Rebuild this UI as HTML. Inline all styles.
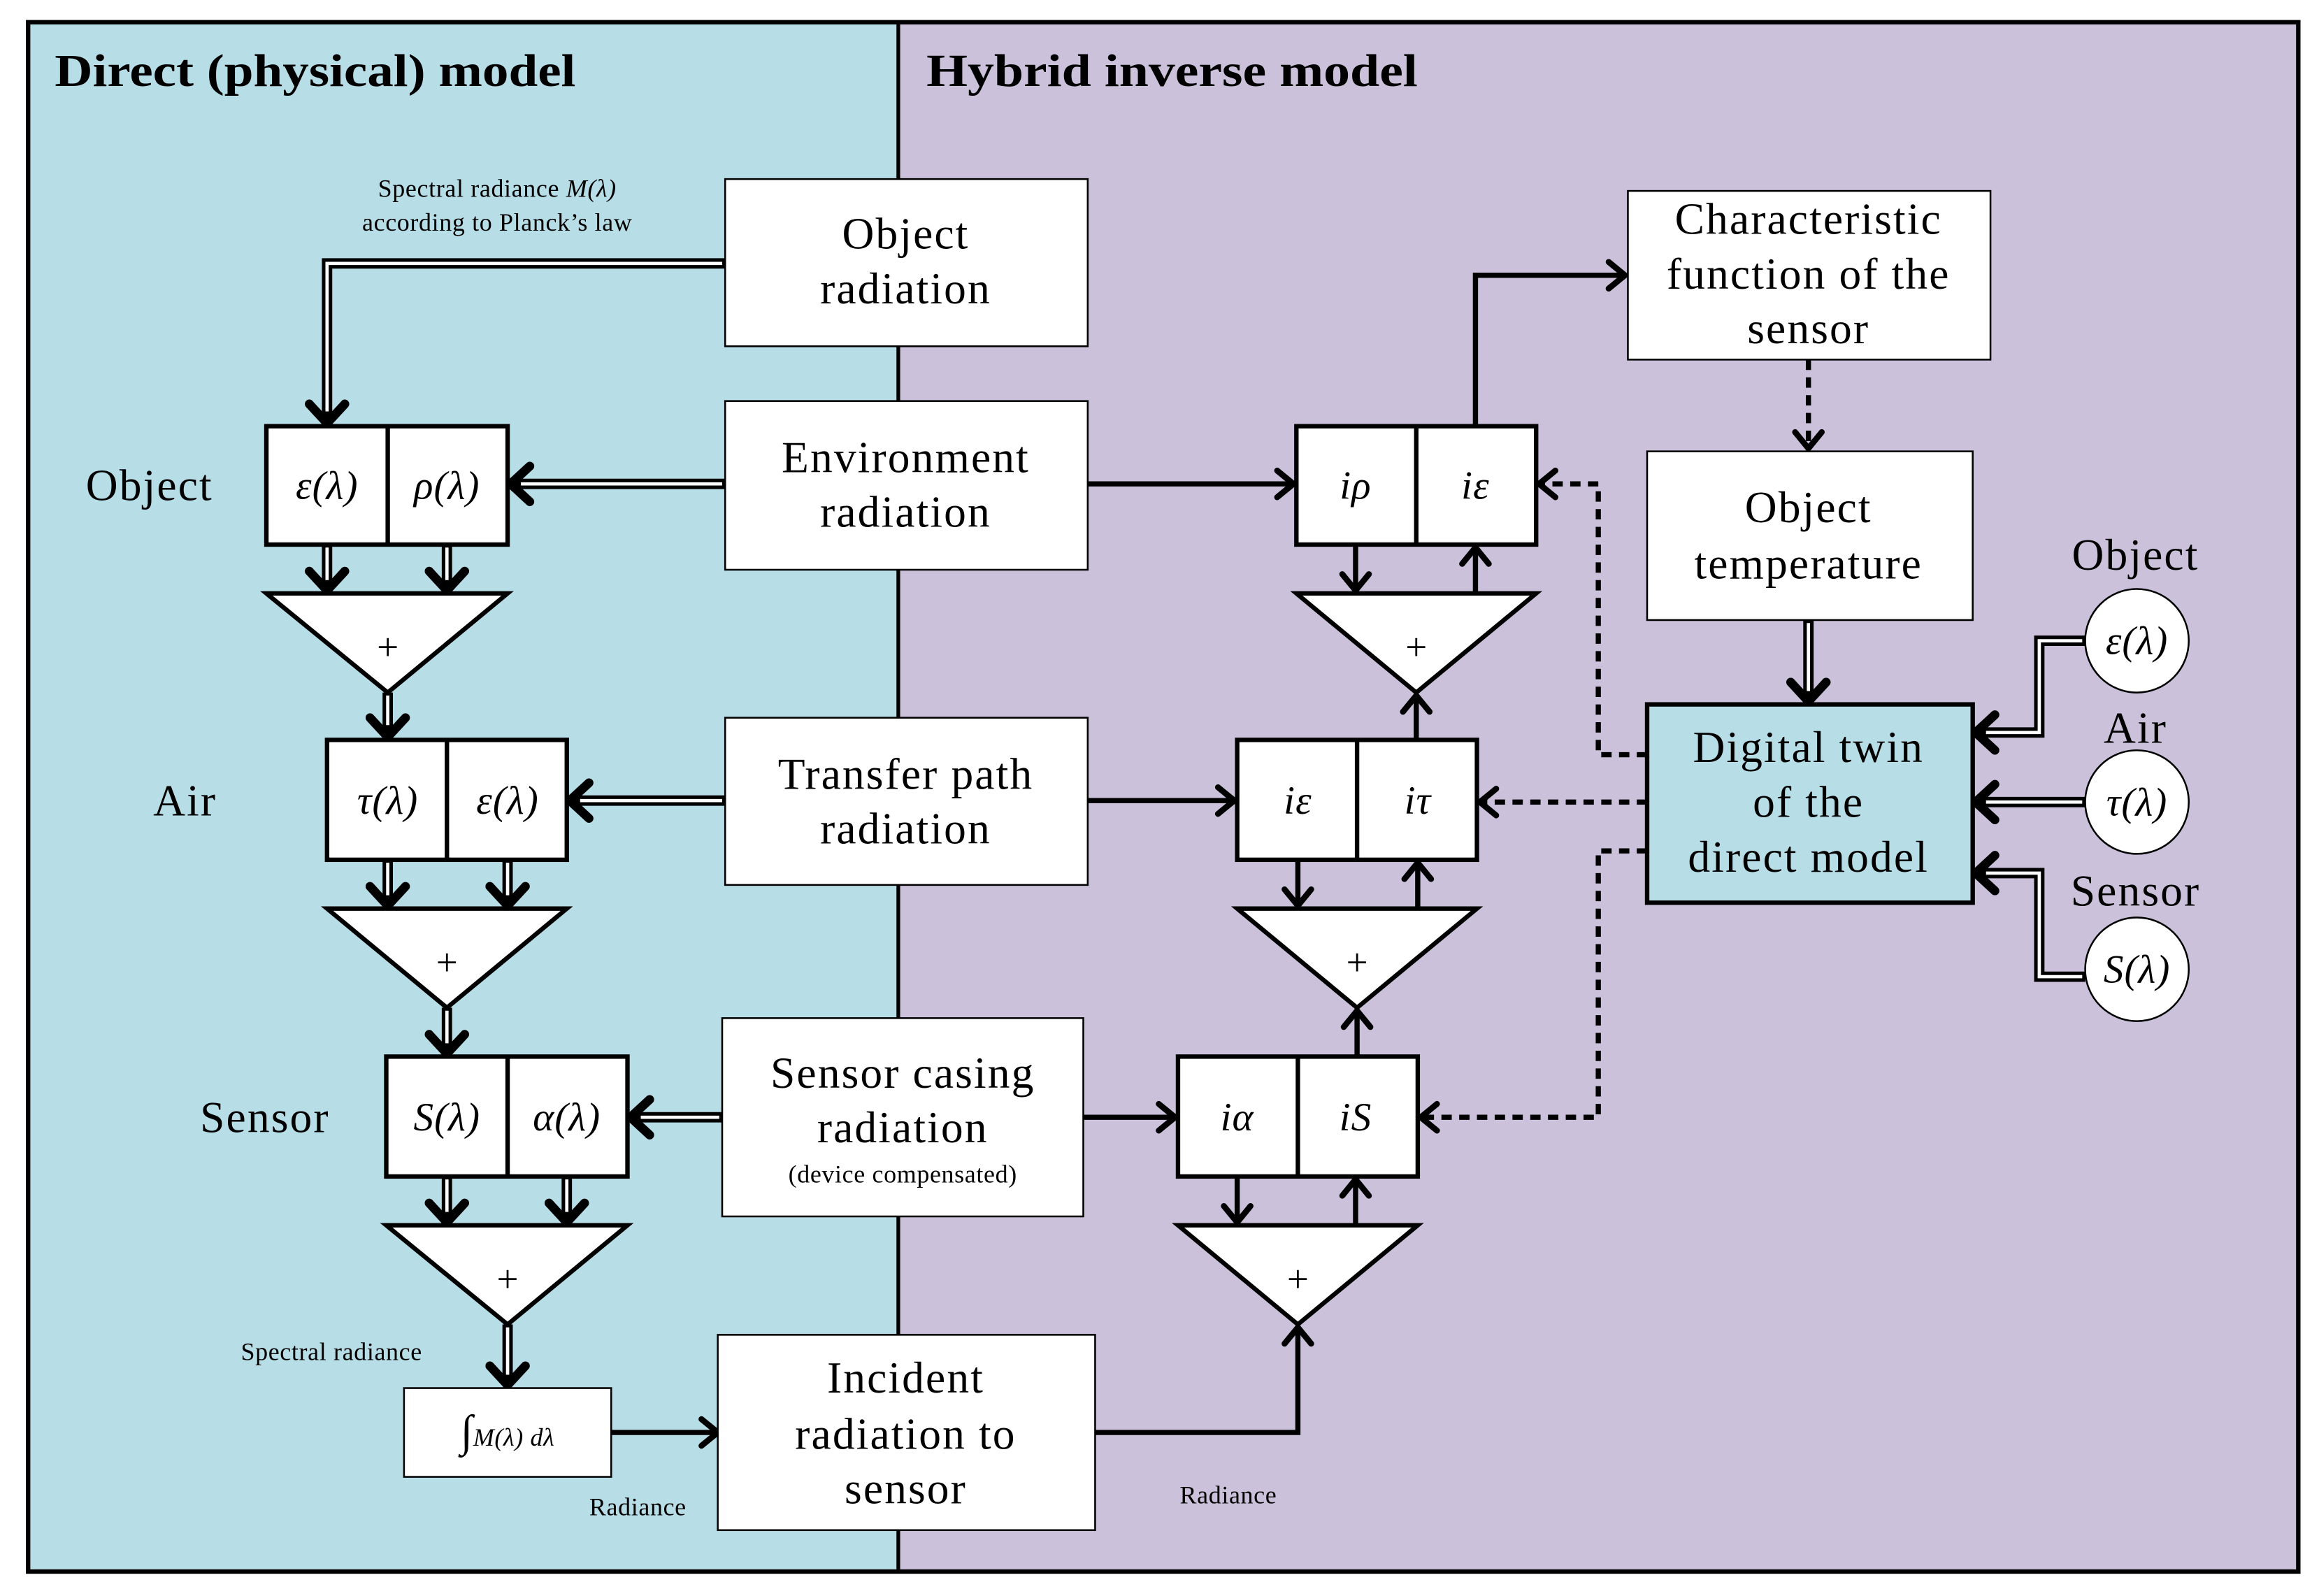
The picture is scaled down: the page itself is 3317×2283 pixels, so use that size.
<!DOCTYPE html>
<html><head><meta charset="utf-8"><style>html,body{margin:0;padding:0;background:#fff}svg{display:block}</style></head><body>
<svg xmlns="http://www.w3.org/2000/svg" width="3317" height="2283" viewBox="0 0 1567 1078.5">
<defs>
<marker id="a" markerUnits="userSpaceOnUse" markerWidth="30" markerHeight="30" viewBox="-20 -15 30 30" refX="0" refY="0" orient="auto">
<path d="M-11,-9 L0,0 L-11,9" fill="none" stroke="#000" stroke-width="4" stroke-linecap="round" stroke-linejoin="round"/>
</marker>
<marker id="b" markerUnits="userSpaceOnUse" markerWidth="30" markerHeight="30" viewBox="-20 -15 30 30" refX="0" refY="0" orient="auto">
<path d="M-13,-12 L0,0 L-13,12" fill="none" stroke="#000" stroke-width="6" stroke-linecap="round" stroke-linejoin="round"/>
</marker>
</defs>
<rect x="0" y="0" width="1567" height="1078.5" fill="#fff"/>
<rect x="19" y="15" width="588" height="1047" fill="#b7dde7"/>
<rect x="607" y="15" width="946" height="1047" fill="#ccc1da"/>
<rect x="19" y="15" width="1534" height="1047" fill="none" stroke="#000" stroke-width="3"/>
<line x1="607" y1="15" x2="607" y2="1062" stroke="#000" stroke-width="2.5"/>
<g font-family="Liberation Serif, serif" fill="#000" font-weight="bold">
<text x="37" y="58" font-size="31" textLength="352" lengthAdjust="spacingAndGlyphs">Direct (physical) model</text>
<text x="626" y="58" font-size="31" textLength="332" lengthAdjust="spacingAndGlyphs">Hybrid inverse model</text>
</g>
<g fill="none" stroke-linejoin="miter">
<g stroke="#000" stroke-width="7">
<path d="M490,178 H221 V286" marker-end="url(#b)"/>
<path d="M490,327 H345" marker-end="url(#b)"/>
<path d="M221,368 V399" marker-end="url(#b)"/>
<path d="M302,368 V399" marker-end="url(#b)"/>
<path d="M262,468 V498" marker-end="url(#b)"/>
<path d="M490,541 H385" marker-end="url(#b)"/>
<path d="M262,581 V612" marker-end="url(#b)"/>
<path d="M343,581 V612" marker-end="url(#b)"/>
<path d="M302,681 V712" marker-end="url(#b)"/>
<path d="M488,755 H426" marker-end="url(#b)"/>
<path d="M302,795 V826" marker-end="url(#b)"/>
<path d="M383,795 V826" marker-end="url(#b)"/>
<path d="M343,895 V936" marker-end="url(#b)"/>
<path d="M1222,419 V474" marker-end="url(#b)"/>
<path d="M1409,433 H1378 V495 H1335" marker-end="url(#b)"/>
<path d="M1409,542 H1335" marker-end="url(#b)"/>
<path d="M1409,660 H1378 V590 H1335" marker-end="url(#b)"/>
</g>
<g stroke="#fff" stroke-width="2.2">
<path d="M488,178 H221 V278"/>
<path d="M488,327 H352"/>
<path d="M221,370 V392"/><path d="M302,370 V392"/>
<path d="M262,470 V490"/>
<path d="M488,541 H392"/>
<path d="M262,583 V605"/><path d="M343,583 V605"/>
<path d="M302,683 V705"/>
<path d="M486,755 H433"/>
<path d="M302,797 V819"/><path d="M383,797 V819"/>
<path d="M343,897 V929"/>
<path d="M1222,421 V467"/>
<path d="M1407,433 H1378 V495 H1342"/>
<path d="M1407,542 H1342"/>
<path d="M1407,660 H1378 V590 H1342"/>
</g>
</g>
<g fill="none" stroke="#000" stroke-width="3.5">
<path d="M413,968 H485" marker-end="url(#a)"/>
<path d="M735,327 H874" marker-end="url(#a)"/>
<path d="M997,288 V186 H1098" marker-end="url(#a)"/>
<path d="M916,368 V399" marker-end="url(#a)"/>
<path d="M997,401 V370" marker-end="url(#a)"/>
<path d="M957,500 V470" marker-end="url(#a)"/>
<path d="M735,541 H834" marker-end="url(#a)"/>
<path d="M877,581 V612" marker-end="url(#a)"/>
<path d="M958,614 V583" marker-end="url(#a)"/>
<path d="M917,714 V683" marker-end="url(#a)"/>
<path d="M732,755 H794" marker-end="url(#a)"/>
<path d="M836,795 V826" marker-end="url(#a)"/>
<path d="M916,828 V797" marker-end="url(#a)"/>
<path d="M740,968 H877 V897" marker-end="url(#a)"/>
</g>
<g fill="none" stroke="#000" stroke-width="3.5" stroke-dasharray="7,5">
<path d="M1222,243 V303" marker-end="url(#a)"/>
<path d="M1113,510 H1080 V327 H1040" marker-end="url(#a)"/>
<path d="M1113,542 H1000" marker-end="url(#a)"/>
<path d="M1113,575 H1080 V755 H960" marker-end="url(#a)"/>
</g>
<g fill="#fff" stroke="#000" stroke-width="1.2">
<rect x="490" y="121" width="245" height="113"/>
<rect x="490" y="271" width="245" height="114"/>
<rect x="490" y="485" width="245" height="113"/>
<rect x="488" y="688" width="244" height="134"/>
<rect x="485" y="902" width="255" height="132"/>
<rect x="1100" y="129" width="245" height="114"/>
<rect x="1113" y="305" width="220" height="114"/>
<rect x="273" y="938" width="140" height="60"/>
</g>
<rect x="1113" y="476" width="220" height="134" fill="#b7dde7" stroke="#000" stroke-width="3"/>
<g fill="#fff" stroke="#000" stroke-width="3">
<rect x="180" y="288" width="163" height="80"/><line x1="262" y1="288" x2="262" y2="368"/>
<rect x="221" y="500" width="162" height="81"/><line x1="302" y1="500" x2="302" y2="581"/>
<rect x="261" y="714" width="163" height="81"/><line x1="343" y1="714" x2="343" y2="795"/>
<rect x="876" y="288" width="162" height="80"/><line x1="957" y1="288" x2="957" y2="368"/>
<rect x="836" y="500" width="162" height="81"/><line x1="917" y1="500" x2="917" y2="581"/>
<rect x="796" y="714" width="162" height="81"/><line x1="877" y1="714" x2="877" y2="795"/>
<polygon points="180,401 343,401 262,468"/>
<polygon points="221,614 383,614 302,681"/>
<polygon points="261,828 424,828 343,895"/>
<polygon points="876,401 1038,401 957,468"/>
<polygon points="836,614 998,614 917,681"/>
<polygon points="796,828 958,828 877,895"/>
</g>
<g fill="#fff" stroke="#000" stroke-width="1.2">
<ellipse cx="1444" cy="433" rx="35" ry="35"/>
<ellipse cx="1444" cy="542" rx="35" ry="35"/>
<ellipse cx="1444" cy="655" rx="35" ry="35"/>
</g>
<g font-family="Liberation Serif, serif" fill="#000" text-anchor="middle" font-size="30" letter-spacing="1">
<text x="612" y="168">Object</text><text x="612" y="205">radiation</text>
<text x="612" y="319">Environment</text><text x="612" y="356">radiation</text>
<text x="612" y="533">Transfer path</text><text x="612" y="570">radiation</text>
<text x="610" y="735">Sensor casing</text><text x="610" y="772">radiation</text>
<text x="610" y="799" font-size="17" letter-spacing="0.3">(device compensated)</text>
<text x="612" y="941">Incident</text><text x="612" y="979">radiation to</text><text x="612" y="1016">sensor</text>
<text x="1222" y="158">Characteristic</text><text x="1222" y="195">function of the</text><text x="1222" y="232">sensor</text>
<text x="1222" y="353">Object</text><text x="1222" y="391">temperature</text>
<text x="1222" y="515">Digital twin</text><text x="1222" y="552">of the</text><text x="1222" y="589">direct model</text>
<text x="101" y="338">Object</text>
<text x="125" y="551">Air</text>
<text x="179" y="765">Sensor</text>
<text x="1443" y="385">Object</text>
<text x="1443" y="502">Air</text>
<text x="1443" y="612">Sensor</text>
<g font-size="26" letter-spacing="0">
<text x="262" y="446">+</text>
<text x="302" y="659">+</text>
<text x="343" y="873">+</text>
<text x="957" y="446">+</text>
<text x="917" y="659">+</text>
<text x="877" y="873">+</text>
</g>
<g font-size="17" letter-spacing="0.3">
<text x="336" y="133">Spectral radiance <tspan font-style="italic">M(λ)</tspan></text>
<text x="336" y="156">according to Planck’s law</text>
<text x="224" y="919">Spectral radiance</text>
<text x="431" y="1024">Radiance</text>
<text x="830" y="1016">Radiance</text>
</g>
<g font-style="italic" font-size="27" letter-spacing="0.5">
<text x="221" y="337">ε(λ)</text><text x="302" y="337">ρ(λ)</text>
<text x="262" y="550">τ(λ)</text><text x="343" y="550">ε(λ)</text>
<text x="302" y="764">S(λ)</text><text x="383" y="764">α(λ)</text>
<text x="916" y="337">iρ</text><text x="997" y="337">iε</text>
<text x="877" y="550">iε</text><text x="958" y="550">iτ</text>
<text x="836" y="764">iα</text><text x="916" y="764">iS</text>
<text x="1444" y="442">ε(λ)</text>
<text x="1444" y="551">τ(λ)</text>
<text x="1444" y="664">S(λ)</text>
</g>
<text x="343" y="977" font-size="17" font-style="italic" letter-spacing="0.3"><tspan font-size="30" font-style="normal">∫</tspan>M(λ) dλ</text>
</g>
</svg>
</body></html>
